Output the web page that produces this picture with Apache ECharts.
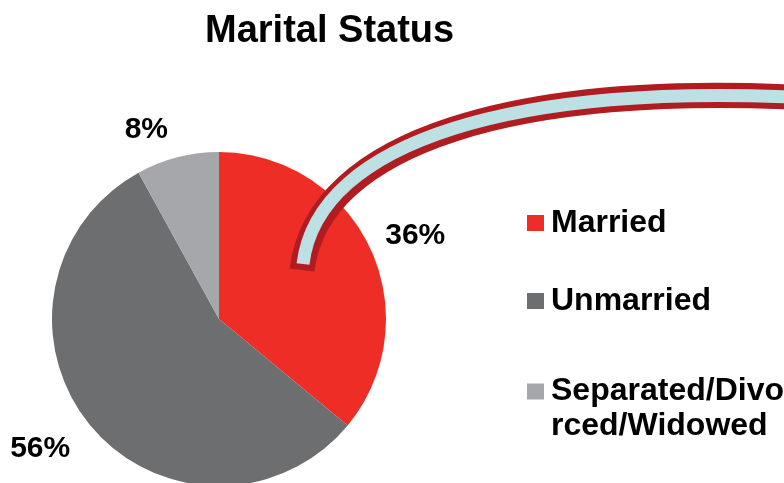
<!DOCTYPE html>
<html>
<head>
<meta charset="utf-8">
<script src="https://cdn.jsdelivr.net/npm/echarts@6/dist/echarts.min.js"></script>
<style>
  html, body { margin: 0; padding: 0; background: #fff; }
  #chart { width: 784px; height: 483px; }
</style>
</head>
<body>
<div id="chart"></div>
<script>
// 数据
var categories = ['Married', 'Unmarried', 'Separated/Divorced/Widowed'];
var shares = [36, 56, 8];
var sliceColors = ['#EE2D27', '#6D6E70', '#A6A7AB'];

var FONT = '"Liberation Sans", Arial, sans-serif';

var chart = echarts.init(document.getElementById('chart'));

// 标签微调
var labelNudge = [[-17, 1], [8, 4], [3, 2]];

function legendFor(i, top, extra) {
  var ts = {
    fontFamily: FONT,
    fontSize: 32,
    fontWeight: 'bold',
    color: '#000',
    padding: [0, 0, 0, 2]
  };
  if (extra) Object.assign(ts, extra);
  return {
    orient: 'vertical',
    left: 527,
    top: top,
    padding: 0,
    itemWidth: 17,
    itemHeight: 16,
    icon: 'rect',
    selectedMode: false,
    data: [categories[i]],
    formatter: function (name) {
      // 第三项换行：前面加一个空行，让图标对齐第一行文字
      return name === 'Separated/Divorced/Widowed' ? ' \nSeparated/Divo\nrced/Widowed' : name;
    },
    textStyle: ts
  };
}

var option = {
  animation: false,
  color: sliceColors,
  title: {
    text: 'Marital Status',
    left: 205,
    top: 13,
    padding: 0,
    textStyle: {
      fontFamily: FONT,
      fontSize: 38,
      fontWeight: 'bold',
      color: '#000'
    }
  },
  legend: [
    legendFor(0, 207),
    legendFor(1, 285),
    legendFor(2, 339, { lineHeight: 35 })
  ],
  graphic: [
    {
      type: 'bezierCurve',
      z: 100,
      shape: { x1: 302, y1: 270, cpx1: 318, cpy1: 140, cpx2: 520, cpy2: 82, x2: 810, y2: 98 },
      style: { stroke: '#B01C1F', lineWidth: 25, fill: null, lineCap: 'butt' }
    },
    {
      type: 'bezierCurve',
      z: 101,
      shape: { x1: 303, y1: 264, cpx1: 318, cpy1: 140, cpx2: 520, cpy2: 82, x2: 810, y2: 98 },
      style: { stroke: '#BCE0E3', lineWidth: 13, fill: null, lineCap: 'butt' }
    }
  ],
  series: [{
    type: 'pie',
    center: [219, 319],
    radius: 167,
    startAngle: 90,
    clockwise: true,
    avoidLabelOverlap: false,
    label: {
      show: true,
      position: 'outside',
      formatter: '{c}%',
      fontFamily: FONT,
      fontSize: 30,
      fontWeight: 'bold',
      color: '#000'
    },
    labelLine: { show: false, length: 30, length2: 0 },
    labelLayout: function (p) {
      return { dx: labelNudge[p.dataIndex][0], dy: labelNudge[p.dataIndex][1] };
    },
    emphasis: { disabled: true },
    data: categories.map(function (c, i) {
      return { name: c, value: shares[i] };
    })
  }]
};

chart.setOption(option);
</script>
</body>
</html>
